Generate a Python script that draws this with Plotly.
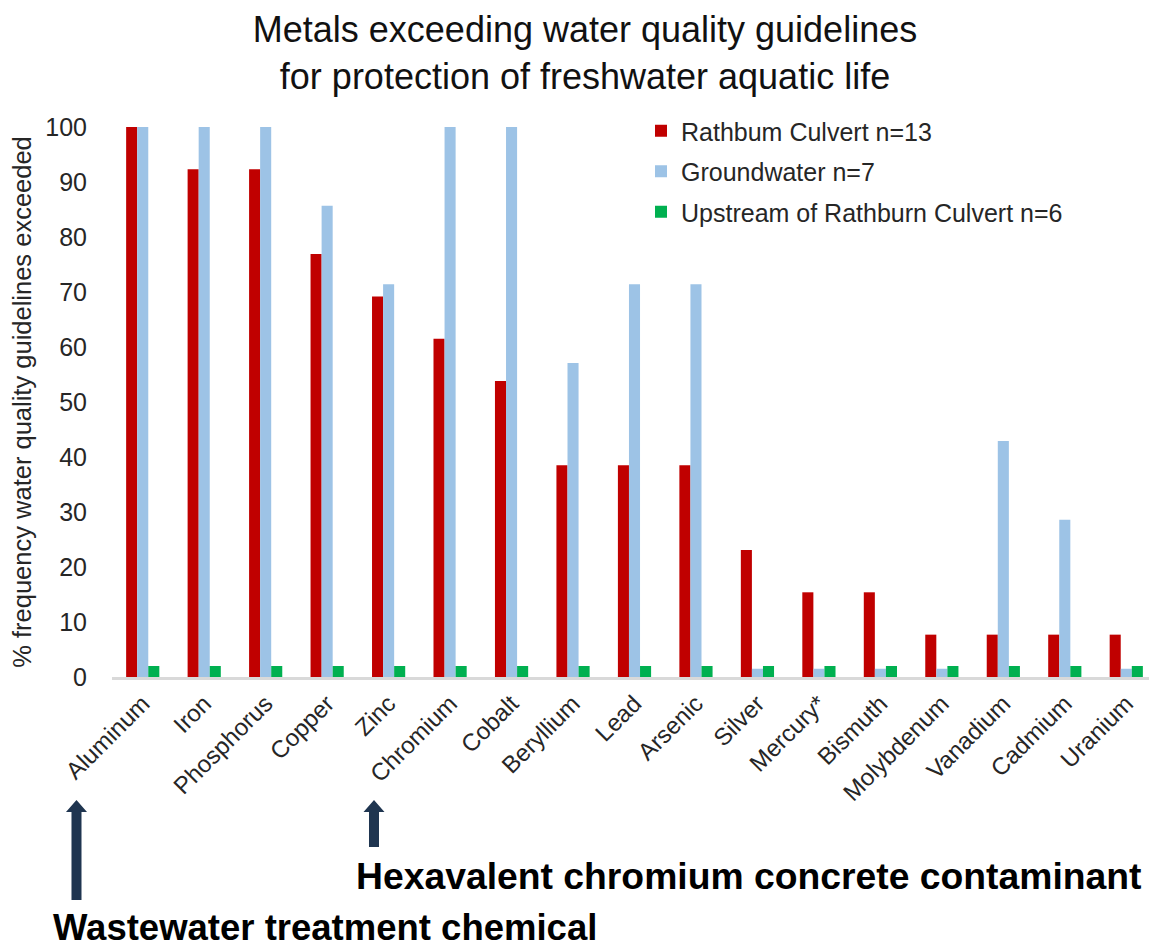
import plotly.graph_objects as go

categories = ["Aluminum", "Iron", "Phosphorus", "Copper", "Zinc", "Chromium", "Cobalt",
              "Beryllium", "Lead", "Arsenic", "Silver", "Mercury*", "Bismuth",
              "Molybdenum", "Vanadium", "Cadmium", "Uranium"]
rathbum = [100, 92.3, 92.3, 76.9, 69.2, 61.5, 53.8, 38.5, 38.5, 38.5,
           23.1, 15.4, 15.4, 7.7, 7.7, 7.7, 7.7]
groundwater = [100, 100, 100, 85.7, 71.4, 100, 100, 57.1, 71.4, 71.4,
               1.5, 1.5, 1.5, 1.5, 42.9, 28.6, 1.5]
upstream = [2, 2, 2, 2, 2, 2, 2, 2, 2, 2, 2, 2, 2, 2, 2, 2, 2]
y_ticks = [0, 10, 20, 30, 40, 50, 60, 70, 80, 90, 100]

series_names = ["Rathbum Culvert n=13", "Groundwater n=7", "Upstream of Rathburn Culvert n=6"]
series_colors = ["#c00000", "#9dc3e6", "#00b050"]

OFF = 8  # page body margin
W, H = 1157 - OFF, 948 - OFF
ML, MR, MT, MB = 104, 0, 119, 271
PW, PH = W - ML - MR, H - MT - MB

def px(x):  # page pixel x -> paper
    return (x - OFF - ML) / PW

def py(y):  # page pixel y -> paper
    return (H - MB - (y - OFF)) / PH

fig = go.Figure()
for i, (name, vals, col) in enumerate(zip(series_names, [rathbum, groundwater, upstream], series_colors)):
    fig.add_trace(go.Bar(x=categories, y=vals, name=name, marker_color=col,
                         marker_line_width=0, legendgroup=f"g{i}"))

font_main = "Liberation Sans, Arial, sans-serif"

fig.update_layout(
    width=W, height=H,
    margin=dict(l=ML, r=MR, t=MT, b=MB, autoexpand=False),
    paper_bgcolor="white", plot_bgcolor="white",
    barmode="group", bargap=0.46, bargroupgap=0,
    font=dict(family=font_main, color="#262626"),
    title=dict(text="Metals exceeding water quality guidelines<br>for protection of freshwater aquatic life",
               x=(585 - OFF) / W, xanchor="center", y=1 - 34 / H, yanchor="top",
               font=dict(size=36, color="#111111", family=font_main)),
    legend=dict(x=px(641), xanchor="left",
                y=py(108), yanchor="top",
                font=dict(size=25, color="#262626"), tracegroupgap=5,
                bgcolor="rgba(0,0,0,0)", itemclick=False),
    showlegend=True,
)
fig.update_xaxes(tickangle=-45, tickfont=dict(size=24, color="#262626"),
                 showline=True, linecolor="#d9d9d9", linewidth=3,
                 ticks="", showgrid=False, zeroline=False)
fig.update_yaxes(range=[0, 100], tickvals=y_ticks, tickfont=dict(size=25, color="#262626"),
                 showgrid=False, zeroline=False, showline=False, ticks="",
                 ticklabelstandoff=24,
                 title=dict(text="% frequency water quality guidelines exceeded",
                            font=dict(size=25.5, color="#262626"), standoff=11))

def arrow(xc, top, bottom, head_h=12, shaft_w=10, head_w=21, color="#1f3550"):
    pts = [(xc, top), (xc + head_w / 2, top + head_h), (xc + shaft_w / 2, top + head_h),
           (xc + shaft_w / 2, bottom), (xc - shaft_w / 2, bottom), (xc - shaft_w / 2, top + head_h),
           (xc - head_w / 2, top + head_h)]
    path = "M " + " L ".join(f"{px(a):.5f},{py(b):.5f}" for a, b in pts) + " Z"
    fig.add_shape(type="path", path=path, xref="paper", yref="paper",
                  fillcolor=color, line=dict(width=0))

arrow(76.5, 800, 900)
arrow(374, 800, 847)

fig.add_annotation(text="<b>Hexavalent chromium concrete contaminant</b>", xref="paper", yref="paper",
                   x=px(354), y=py(876), xanchor="left", yanchor="middle", showarrow=False,
                   font=dict(size=37.3, color="#000000", family=font_main))
fig.add_annotation(text="<b>Wastewater treatment chemical</b>", xref="paper", yref="paper",
                   x=px(51), y=py(927), xanchor="left", yanchor="middle", showarrow=False,
                   font=dict(size=36.5, color="#000000", family=font_main))

fig.write_html("out.html")
